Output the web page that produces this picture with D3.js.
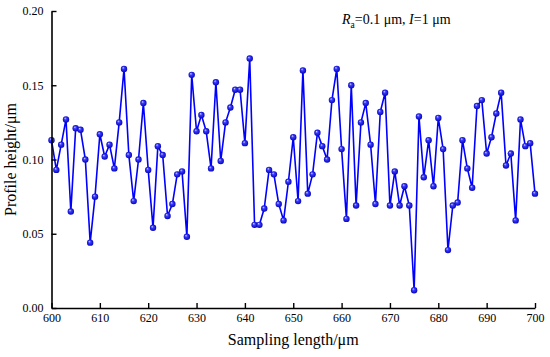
<!DOCTYPE html>
<html>
<head>
<meta charset="utf-8">
<script src="https://cdn.jsdelivr.net/npm/d3@7"></script>
<style>
  html, body { margin: 0; padding: 0; background: #fff; }
  svg { display: block; }
  text { font-family: "Liberation Serif", "Times New Roman", serif; fill: #000; }
</style>
</head>
<body>
<svg id="chart" width="550" height="357"></svg>
<script>
// ---- data ----
const xStart = 600;
const heights = [
  0.113, 0.093, 0.110, 0.127, 0.065, 0.121, 0.120, 0.100, 0.044, 0.075,
  0.117, 0.102, 0.110, 0.094, 0.125, 0.161, 0.103, 0.072, 0.100, 0.138,
  0.093, 0.054, 0.109, 0.103, 0.062, 0.070, 0.090, 0.092, 0.048, 0.157,
  0.119, 0.130, 0.119, 0.094, 0.152, 0.099, 0.125, 0.135, 0.147, 0.147,
  0.111, 0.168, 0.056, 0.056, 0.067, 0.093, 0.090, 0.070, 0.059, 0.085,
  0.115, 0.072, 0.160, 0.077, 0.090, 0.118, 0.109, 0.100, 0.140, 0.161,
  0.107, 0.060, 0.150, 0.069, 0.125, 0.138, 0.110, 0.070, 0.132, 0.145,
  0.069, 0.092, 0.069, 0.082, 0.069, 0.012, 0.129, 0.088, 0.113, 0.082,
  0.128, 0.107, 0.039, 0.069, 0.071, 0.113, 0.094, 0.081, 0.136, 0.140,
  0.104, 0.115, 0.131, 0.145, 0.096, 0.104, 0.059, 0.127, 0.109, 0.111,
  0.077
];
const xTicks = [600, 610, 620, 630, 640, 650, 660, 670, 680, 690, 700];
const yTicks = [0.00, 0.05, 0.10, 0.15, 0.20];
const xTitle = "Sampling length/\u03bcm";
const yTitle = "Profile height/\u03bcm";

const points = heights.map((v, i) => ({ x: xStart + i, y: v }));

// ---- layout ----
const svg = d3.select("#chart");
const mLeft = 51.5, mRight = 535, mTop = 11, mBottom = 308;

const x = d3.scaleLinear().domain([600, 700]).range([mLeft, mRight]);
const y = d3.scaleLinear().domain([0, 0.20]).range([mBottom, mTop]);

// gradient for ball markers
const defs = svg.append("defs");
const grad = defs.append("radialGradient")
  .attr("id", "ball").attr("cx", "50%").attr("cy", "50%").attr("r", "55%")
  .attr("fx", "35%").attr("fy", "30%");
grad.append("stop").attr("offset", "0%").attr("stop-color", "#d8d8ff");
grad.append("stop").attr("offset", "35%").attr("stop-color", "#3a3aff");
grad.append("stop").attr("offset", "100%").attr("stop-color", "#0000b0");

// line
const line = d3.line().x(d => x(d.x)).y(d => y(d.y));
svg.append("path")
  .datum(points)
  .attr("d", line)
  .attr("fill", "none")
  .attr("stroke", "#0000ff")
  .attr("stroke-width", 1.6)
  .attr("stroke-linejoin", "round");

// markers
svg.append("g").selectAll("circle")
  .data(points)
  .join("circle")
  .attr("cx", d => x(d.x))
  .attr("cy", d => y(d.y))
  .attr("r", 3.2)
  .attr("fill", "url(#ball)");

// axes
const xAxis = d3.axisBottom(x).tickValues(xTicks).tickFormat(d3.format("d"))
  .tickSizeInner(-5).tickSizeOuter(0).tickPadding(5);
const yAxis = d3.axisLeft(y).tickValues(yTicks).tickFormat(d3.format(".2f"))
  .tickSizeInner(-5).tickSizeOuter(0).tickPadding(8);

const gx = svg.append("g").attr("transform", `translate(0,${mBottom})`).call(xAxis);
const gy = svg.append("g").attr("transform", `translate(${mLeft},0)`).call(yAxis);

[gx, gy].forEach(g => {
  g.select(".domain").attr("stroke", "#000").attr("stroke-width", 1.6);
  g.selectAll(".tick line").attr("stroke", "#000").attr("stroke-width", 1.4);
  g.selectAll(".tick text")
    .style("font-family", '"Liberation Serif", "Times New Roman", serif')
    .style("font-size", "12px").attr("fill", "#000");
});

// axis titles
svg.append("text")
  .attr("x", (mLeft + mRight) / 2).attr("y", 345)
  .attr("text-anchor", "middle")
  .style("font-size", "16px")
  .text(xTitle);

svg.append("text")
  .attr("transform", `translate(16,${(mTop + mBottom) / 2}) rotate(-90)`)
  .attr("text-anchor", "middle")
  .style("font-size", "16px")
  .text(yTitle);

// annotation
const ann = svg.append("text").attr("x", 342).attr("y", 24).style("font-size", "14px");
ann.append("tspan").style("font-style", "italic").text("R");
ann.append("tspan").attr("dy", 4).style("font-size", "9.5px").style("font-style", "normal").text("a");
ann.append("tspan").attr("dy", -4).text("=0.1 \u03bcm, ");
ann.append("tspan").style("font-style", "italic").text("I");
ann.append("tspan").text("=1 \u03bcm");
</script>
</body>
</html>
